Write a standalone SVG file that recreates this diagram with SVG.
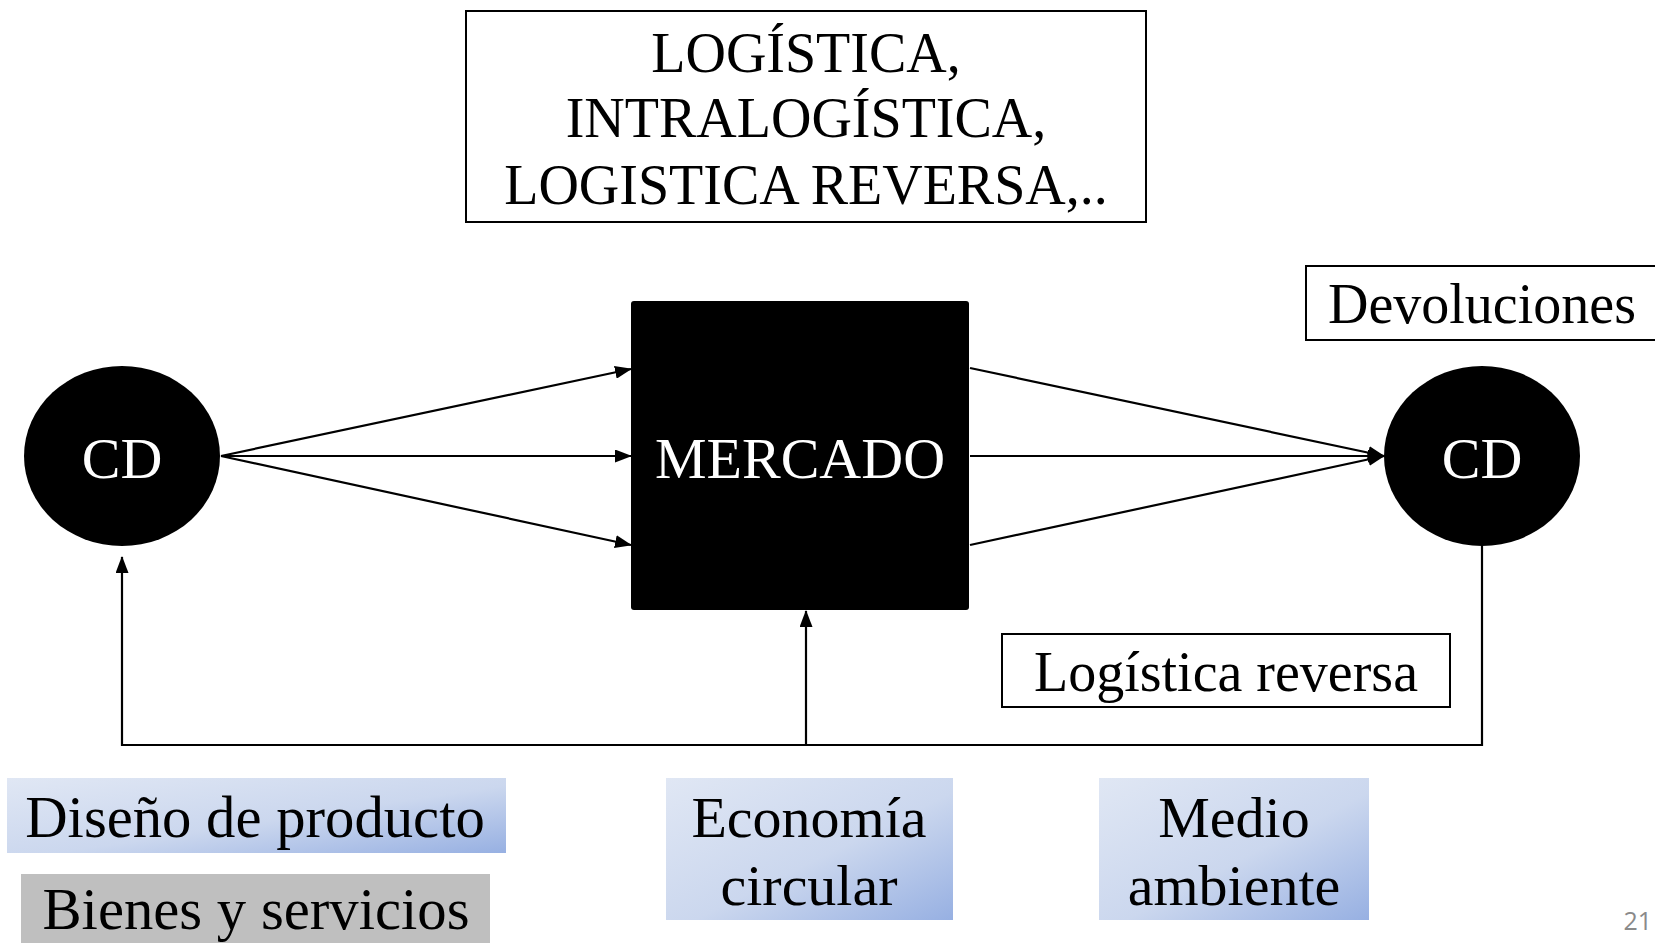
<svg xmlns="http://www.w3.org/2000/svg" width="1655" height="943" viewBox="0 0 1655 943">
<defs>
<style>
.t{font-family:"Liberation Serif","Times New Roman",serif;font-size:57px;fill:#000}
.s56{font-size:56px}
.s58{font-size:58px}
.s59{font-size:58.7px}
.w{fill:#fff}
.box{fill:#fff;stroke:#000;stroke-width:2}
.ln{stroke:#000;stroke-width:2.2;fill:none}
</style>
<linearGradient id="g" x1="0" y1="0" x2="1" y2="1">
<stop offset="0" stop-color="#e0e7f4"/>
<stop offset="0.55" stop-color="#cbd7ee"/>
<stop offset="1" stop-color="#97b0e2"/>
</linearGradient>
<marker id="ah" markerUnits="userSpaceOnUse" markerWidth="17" markerHeight="13" refX="16" refY="6.5" orient="auto">
<path d="M0,0 L17,6.5 L0,13 Z" fill="#000"/>
</marker>
</defs>
<rect width="1655" height="943" fill="#fff"/>

<g id="connectors">
<line class="ln" x1="221" y1="456" x2="631" y2="369" marker-end="url(#ah)"/>
<line class="ln" x1="221" y1="456" x2="631" y2="456" marker-end="url(#ah)"/>
<line class="ln" x1="221" y1="456" x2="631" y2="545" marker-end="url(#ah)"/>
<line class="ln" x1="970" y1="368" x2="1384" y2="456" marker-end="url(#ah)"/>
<line class="ln" x1="970" y1="456" x2="1384" y2="456" marker-end="url(#ah)"/>
<line class="ln" x1="970" y1="545" x2="1384" y2="456" marker-end="url(#ah)"/>
<polyline class="ln" points="1482,546 1482,745 122,745 122,557" marker-end="url(#ah)"/>
<line class="ln" x1="806" y1="745" x2="806" y2="611" marker-end="url(#ah)"/>
</g>

<g id="top-box">
<rect class="box" x="466" y="11" width="680" height="211"/>
<text class="t s56" x="806" y="72" text-anchor="middle">LOGÍSTICA,</text>
<text class="t s56" x="806" y="137" text-anchor="middle">INTRALOGÍSTICA,</text>
<text class="t s56" x="806" y="204" text-anchor="middle">LOGISTICA REVERSA,..</text>
</g>

<g id="cd-left">
<ellipse cx="122" cy="456" rx="98" ry="90" fill="#000"/>
<text class="t s58 w" x="122" y="478" text-anchor="middle">CD</text>
</g>

<g id="mercado">
<rect x="631" y="301" width="338" height="309" rx="3" fill="#000"/>
<text class="t s58 w" x="800" y="478" text-anchor="middle">MERCADO</text>
</g>

<g id="cd-right">
<ellipse cx="1482" cy="456" rx="98" ry="90" fill="#000"/>
<text class="t s58 w" x="1482" y="478" text-anchor="middle">CD</text>
</g>

<g id="devoluciones">
<rect class="box" x="1306" y="266" width="360" height="74"/>
<text class="t s56" x="1328" y="323">Devoluciones</text>
</g>

<g id="logistica-reversa">
<rect class="box" x="1002" y="634" width="448" height="73"/>
<text class="t s56" x="1226" y="691" text-anchor="middle">Logística reversa</text>
</g>

<g id="diseno">
<rect x="7" y="778" width="499" height="75" fill="url(#g)"/>
<text class="t s59" x="255" y="837" text-anchor="middle">Diseño de producto</text>
</g>

<g id="bienes">
<rect x="21" y="874" width="469" height="75" fill="#bfbfbf"/>
<text class="t s59" x="256" y="929" text-anchor="middle">Bienes y servicios</text>
</g>

<g id="economia">
<rect x="666" y="778" width="287" height="142" fill="url(#g)"/>
<text class="t s58" x="809" y="837" text-anchor="middle">Economía</text>
<text class="t s58" x="809" y="905" text-anchor="middle">circular</text>
</g>

<g id="medio">
<rect x="1099" y="778" width="270" height="142" fill="url(#g)"/>
<text class="t s58" x="1234" y="837" text-anchor="middle">Medio</text>
<text class="t s58" x="1234" y="905" text-anchor="middle">ambiente</text>
</g>

<text x="1652" y="930" text-anchor="end" font-family="Open Sans, Liberation Sans, sans-serif" font-size="25" fill="#8a8a8a">21</text>
</svg>
